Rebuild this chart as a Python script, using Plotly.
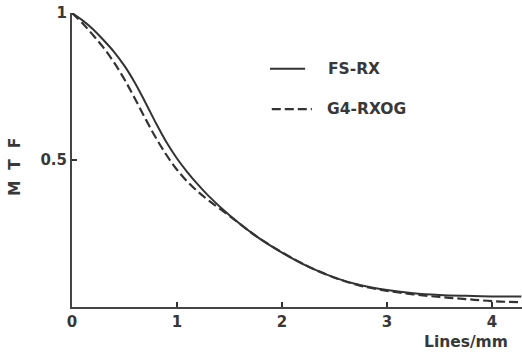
import plotly.graph_objects as go

# Spatial frequency (lines/mm) and MTF values
fs_x = [0, 0.1, 0.2, 0.3, 0.4, 0.5, 0.6, 0.7, 0.8, 0.9, 1.0, 1.1, 1.2, 1.3, 1.5, 1.75,
        2.0, 2.25, 2.5, 2.75, 3.0, 3.25, 3.5, 3.75, 4.0, 4.28]
fs_rx = [1.0, 0.975, 0.945, 0.908, 0.868, 0.82, 0.762, 0.695, 0.625, 0.56, 0.505, 0.458,
         0.416, 0.378, 0.312, 0.242, 0.185, 0.137, 0.10, 0.074, 0.058, 0.047, 0.041, 0.038,
         0.036, 0.036]

g4_x = [0, 0.1, 0.2, 0.3, 0.4, 0.5, 0.6, 0.7, 0.8, 0.9, 1.0, 1.1, 1.2, 1.3, 1.5, 1.75,
        2.0, 2.25, 2.5, 2.75, 3.0, 3.25, 3.5, 3.75, 4.0, 4.28]
g4_rxog = [1.0, 0.965, 0.925, 0.882, 0.832, 0.774, 0.708, 0.64, 0.575, 0.517, 0.467, 0.426,
           0.392, 0.363, 0.31, 0.242, 0.186, 0.138, 0.10, 0.072, 0.055, 0.043, 0.034, 0.027,
           0.02, 0.016]

x_ticks = [0, 1, 2, 3, 4]
y_ticks = [0.5, 1]
y_tick_text = ["0.5", "1"]

ink = "#383838"
tick_font = dict(family="DejaVu Sans, Liberation Sans, sans-serif", size=15, color=ink,
                 weight="bold")
label_font = dict(family="DejaVu Sans, Liberation Sans, sans-serif", size=15.5, color=ink,
                  weight="bold")

fig = go.Figure()
fig.add_trace(go.Scatter(x=fs_x, y=fs_rx, mode="lines", name="FS-RX",
                         line=dict(color="#333", width=2, shape="spline", smoothing=1.0)))
fig.add_trace(go.Scatter(x=g4_x, y=g4_rxog, mode="lines", name="G4-RXOG",
                         line=dict(color="#333", width=2.2, dash="9px,4px", shape="spline",
                                   smoothing=1.0)))

fig.update_layout(
    width=522, height=352,
    margin=dict(l=72, r=0, t=13, b=45),
    paper_bgcolor="white", plot_bgcolor="white",
    showlegend=False,
    font=tick_font,
    xaxis=dict(range=[0, 4.286], tickvals=x_ticks, ticks="inside", ticklen=5, tickwidth=1.5,
               tickcolor="#333", showline=True, linecolor="#444", linewidth=2, showgrid=False,
               zeroline=False, tickfont=tick_font, fixedrange=True),
    yaxis=dict(range=[0, 1.0], tickvals=y_ticks, ticktext=y_tick_text, ticks="inside", ticklen=5,
               tickwidth=1.5, tickcolor="#333", showline=True, linecolor="#444", linewidth=2,
               showgrid=False, zeroline=False, tickfont=tick_font, fixedrange=True),
)

# Axis titles
fig.add_annotation(text="M  T  F", xref="paper", yref="paper", x=-0.127, y=0.476,
                   xanchor="center", yanchor="middle", textangle=-90, showarrow=False,
                   font=label_font)
fig.add_annotation(text="Lines/mm", xref="paper", yref="paper", x=0.876, y=-0.119,
                   xanchor="center", yanchor="middle", showarrow=False, font=label_font)

# Legend drawn inside the plot
fig.add_shape(type="line", xref="paper", yref="paper", x0=0.44, x1=0.518, y0=0.81, y1=0.81,
              line=dict(color="#333", width=2))
fig.add_annotation(text="FS-RX", xref="paper", yref="paper", x=0.565, y=0.81, xanchor="left",
                   yanchor="middle", showarrow=False, font=label_font)
fig.add_shape(type="line", xref="paper", yref="paper", x0=0.444, x1=0.533, y0=0.673, y1=0.673,
              line=dict(color="#333", width=2.2, dash="9px,4px"))
fig.add_annotation(text="G4-RXOG", xref="paper", yref="paper", x=0.562, y=0.673, xanchor="left",
                   yanchor="middle", showarrow=False, font=label_font)

fig.write_html("out.html")
